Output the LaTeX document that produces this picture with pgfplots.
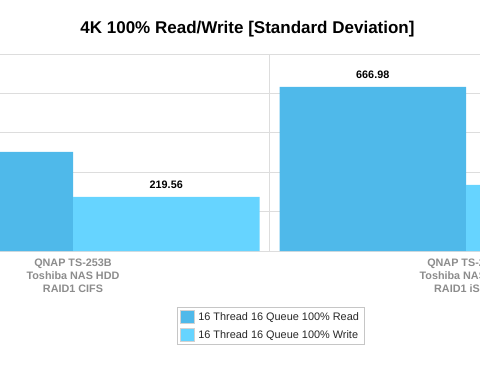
\documentclass[border=0pt]{standalone}
\usepackage{pgfplots}
\pgfplotsset{compat=1.18}
\usepackage{fontspec}
\setmainfont{Liberation Sans}
\definecolor{readc}{RGB}{79,185,234}
\definecolor{writec}{RGB}{102,212,255}
\definecolor{gridc}{RGB}{221,221,221}
\definecolor{labc}{RGB}{140,140,140}
\definecolor{legc}{RGB}{40,40,40}
\begin{document}
\begin{tikzpicture}[x=1pt,y=1pt]
\path[use as bounding box] (0,0) rectangle (480,368);
\clip (0,0) rectangle (480,368);
\node[font=\bfseries\fontsize{17}{20}\selectfont, anchor=center] at (247.5,339) {4K 100\% Read/Write [Standard Deviation]};
\begin{axis}[
  at={(0pt,117pt)}, anchor=south west, scale only axis,
  width=480pt, height=197pt,
  xmin=-0.18575, xmax=1.03562, ymin=0, ymax=800,
  /pgf/number format/assume math mode=true,
  ytick={0,160,...,800}, yticklabels={}, ymajorgrids,
  major grid style={draw=gridc, line width=0.8pt},
  xtick={0,1},
  xticklabels={{QNAP TS-253B\\Toshiba NAS HDD\\RAID1 CIFS},{QNAP TS-253B\\Toshiba NAS HDD\\RAID1 iSCSI}},
  xticklabel style={align=center, font=\bfseries\fontsize{10.8}{13}\selectfont, text=labc, anchor=north, inner sep=0pt},
  xticklabel shift=7.5pt,
  minor xtick={0.5}, xminorgrids,
  minor grid style={draw=gridc, line width=0.8pt},
  axis line style={draw=none}, tick style={draw=none},
  nodes near coords,
  /pgf/number format/.cd, fixed, precision=2, fixed zerofill, /pgfplots/.cd,
  every node near coord/.append style={font=\bfseries\fontsize{10.8}{13}\selectfont, text=black, anchor=base, yshift=8pt},
  legend style={at={(0.5635,-0.2843)}, anchor=north, draw=gray!45, line width=0.8pt,
    font=\fontsize{10.9}{13}\selectfont, text=legc, inner xsep=3pt, inner ysep=3pt, row sep=4pt},
  legend cell align=left,
  legend image code/.code={\draw[#1, draw=gray!35, line width=0.6pt] (0pt,-6.5pt) rectangle (14pt,6.5pt); \path (16pt,0pt);},
]
\addplot[ybar, bar width=186.5pt, bar shift=-93.25pt, fill=readc, draw=none,
  every node near coord/.append style={xshift=-93.25pt}] coordinates {(0,402.10) (1,666.98)};
\addplot[ybar, bar width=186.5pt, bar shift=93.25pt, fill=writec, draw=none,
  every node near coord/.append style={xshift=93.25pt}] coordinates {(0,219.56) (1,268.40)};
\legend{16 Thread 16 Queue 100\% Read, 16 Thread 16 Queue 100\% Write}
\end{axis}
\end{tikzpicture}
\end{document}
